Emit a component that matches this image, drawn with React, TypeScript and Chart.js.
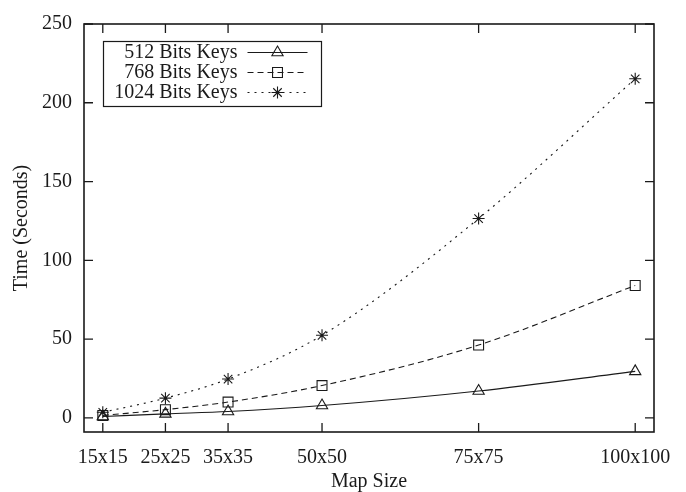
import React, { useEffect, useRef } from 'react';
import { Chart, registerables } from 'chart.js';

Chart.register(...registerables);

const mapSizes = [15, 25, 35, 50, 75, 100];
const yTickValues = [0, 50, 100, 150, 200, 250];
const keys512 = [0.8, 2.5, 4.0, 7.8, 17.0, 29.5];
const keys768 = [1.5, 5.2, 10.0, 20.5, 46.2, 84.0];
const keys1024 = [3.5, 12.5, 24.6, 52.4, 126.5, 215.2];
const seriesLabels = ['512 Bits Keys', '768 Bits Keys', '1024 Bits Keys'];

const FONT = "'Liberation Serif', 'Times New Roman', serif";
const INK = '#1a1a1a';
const FS = 20;

type Shape = 'triangle' | 'rect' | 'star';

function drawMarker(ctx: CanvasRenderingContext2D, shape: Shape, x: number, y: number, r: number) {
  ctx.beginPath();
  if (shape === 'triangle') {
    let rad = 0;
    ctx.moveTo(x + Math.sin(rad) * r, y - Math.cos(rad) * r);
    rad += (2 * Math.PI) / 3;
    ctx.lineTo(x + Math.sin(rad) * r, y - Math.cos(rad) * r);
    rad += (2 * Math.PI) / 3;
    ctx.lineTo(x + Math.sin(rad) * r, y - Math.cos(rad) * r);
    ctx.closePath();
  } else if (shape === 'rect') {
    const s = Math.SQRT1_2 * r;
    ctx.rect(x - s, y - s, 2 * s, 2 * s);
  } else {
    const d = Math.SQRT1_2 * r;
    ctx.moveTo(x - d, y - d);
    ctx.lineTo(x + d, y + d);
    ctx.moveTo(x - d, y + d);
    ctx.lineTo(x + d, y - d);
    ctx.moveTo(x - r, y);
    ctx.lineTo(x + r, y);
    ctx.moveTo(x, y - r);
    ctx.lineTo(x, y + r);
  }
  ctx.stroke();
}

const framePlugin = {
  id: 'gnuFrame',
  afterDraw(chart: any) {
    const { ctx, chartArea: a, scales } = chart;
    ctx.save();
    ctx.strokeStyle = INK;
    ctx.setLineDash([]);
    ctx.lineWidth = 1.6;
    ctx.strokeRect(a.left, a.top, a.right - a.left, a.bottom - a.top);
    ctx.lineWidth = 1.3;
    const tl = 9;
    ctx.beginPath();
    mapSizes.forEach((v) => {
      const x = scales.x.getPixelForValue(v);
      ctx.moveTo(x, a.bottom);
      ctx.lineTo(x, a.bottom - tl);
      ctx.moveTo(x, a.top);
      ctx.lineTo(x, a.top + tl);
    });
    yTickValues.forEach((v) => {
      const y = scales.y.getPixelForValue(v);
      ctx.moveTo(a.left, y);
      ctx.lineTo(a.left + tl, y);
      ctx.moveTo(a.right, y);
      ctx.lineTo(a.right - tl, y);
    });
    ctx.stroke();

    // legend
    const bx = a.left + 19.5;
    const by = a.top + 17.5;
    const bw = 218;
    const bh = 65;
    ctx.lineWidth = 1.2;
    ctx.strokeRect(bx, by, bw, bh);
    ctx.font = `${FS}px ${FONT}`;
    ctx.fillStyle = INK;
    ctx.textAlign = 'right';
    ctx.textBaseline = 'middle';
    chart.data.datasets.forEach((ds: any, i: number) => {
      const y = by + 11 + 20 * i;
      ctx.fillText(ds.label, bx + 134, y);
      ctx.lineWidth = 1.1;
      ctx.setLineDash(ds.borderDash || []);
      ctx.beginPath();
      ctx.moveTo(bx + 144, y);
      ctx.lineTo(bx + 204, y);
      ctx.stroke();
      ctx.setLineDash([]);
      drawMarker(ctx, ds.pointStyle, bx + 174, y, ds.pointRadius);
    });
    ctx.restore();
  },
};

export default function App() {
  const ref = useRef<HTMLCanvasElement>(null);

  useEffect(() => {
    if (!ref.current) return;
    const mk = (vals: number[]) => vals.map((v, i) => ({ x: mapSizes[i], y: v }));
    const common = {
      borderColor: INK,
      borderWidth: 1.1,
      pointBorderColor: INK,
      pointBackgroundColor: 'rgba(0,0,0,0)',
      pointBorderWidth: 1.1,
      cubicInterpolationMode: 'monotone',
    };
    const chart = new Chart(ref.current, {
      type: 'line',
      data: {
        datasets: [
          { ...common, label: seriesLabels[0], data: mk(keys512), pointStyle: 'triangle', pointRadius: 6.5 },
          { ...common, label: seriesLabels[1], data: mk(keys768), borderDash: [6, 4], pointStyle: 'rect', pointRadius: 7 },
          { ...common, label: seriesLabels[2], data: mk(keys1024), borderDash: [2, 5], pointStyle: 'star', pointRadius: 6 },
        ] as any,
      },
      options: {
        animation: false,
        responsive: false,
        maintainAspectRatio: false,
        layout: { padding: { top: 15, right: 32, left: 0, bottom: 0 } },
        plugins: { legend: { display: false }, tooltip: { enabled: false } },
        scales: {
          x: {
            type: 'linear',
            min: 12,
            max: 103,
            afterBuildTicks: (s: any) => {
              s.ticks = mapSizes.map((v) => ({ value: v }));
            },
            afterFit: (s: any) => {
              s.height = 60;
            },
            grid: { display: false, drawTicks: false },
            border: { display: false },
            ticks: {
              autoSkip: false,
              maxRotation: 0,
              padding: 14,
              color: INK,
              font: { family: FONT, size: FS },
              callback: (v: any) => `${v}x${v}`,
            },
            title: {
              display: true,
              text: 'Map Size',
              color: INK,
              font: { family: FONT, size: FS, lineHeight: 1.0 },
              padding: { top: 0, bottom: 0 },
            },
          },
          y: {
            type: 'linear',
            min: -9,
            max: 250,
            afterBuildTicks: (s: any) => {
              s.ticks = yTickValues.map((v) => ({ value: v }));
            },
            afterFit: (s: any) => {
              s.width = 84;
            },
            grid: { display: false, drawTicks: false },
            border: { display: false },
            ticks: {
              padding: 12,
              color: INK,
              font: { family: FONT, size: FS },
            },
            title: {
              display: true,
              text: 'Time (Seconds)',
              color: INK,
              font: { family: FONT, size: FS },
              padding: { top: 10, bottom: 0 },
            },
          },
        },
      },
      plugins: [framePlugin],
    });
    return () => chart.destroy();
  }, []);

  return (
    <div style={{ position: 'absolute', left: 0, top: 0, width: 686, height: 492, background: '#fff' }}>
      <canvas ref={ref} width={686} height={492} style={{ width: 686, height: 492 }} />
    </div>
  );
}
